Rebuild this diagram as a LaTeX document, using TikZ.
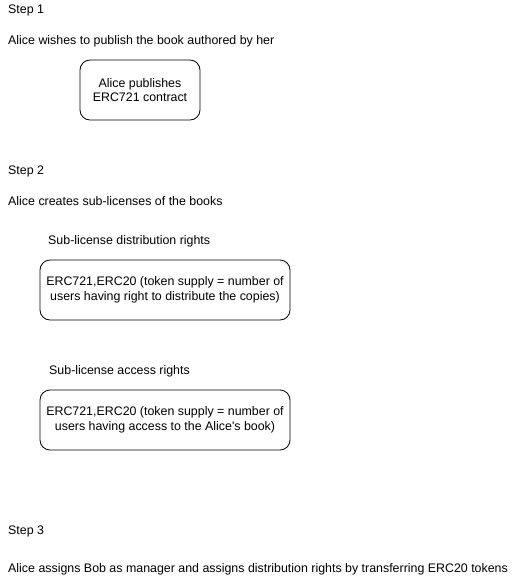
\documentclass[tikz,border=0pt]{standalone}
\usepackage{fontspec}
\setmainfont{Liberation Sans}
\usepackage{tikz}
\usetikzlibrary{shapes,positioning}

\begin{document}
\begin{tikzpicture}[x=1pt, y=-1pt, font=\fontsize{12.4}{14.5}\selectfont]
  % styles
  \tikzstyle{label}=[anchor=west, inner sep=0pt]
  \tikzstyle{contract}=[rectangle, draw=black, fill=white, line width=0.8pt, rounded corners=10pt, align=center, inner sep=0pt]

  \useasboundingbox (0,0) rectangle (521,581);

  % step 1
  \node [label] (step_one) at (8,10) {Step 1};
  \node [label] (publish_text) at (8,41) {Alice wishes to publish the book authored by her};
  \node [contract, minimum width=120pt, minimum height=60pt] (publish) at (140,90) {
      Alice publishes\\ERC721 contract
  };

  % step 2
  \node [label] (step_two) at (8,171) {Step 2};
  \node [label] (sublicense_text) at (8,201) {Alice creates sub-licenses of the books};
  \node [label] (distribution_title) at (48,241) {Sub-license distribution rights};
  \node [contract, minimum width=250pt, minimum height=60pt] (distribution) at (165,290) {
      ERC721,ERC20 (token supply = number of\\users having right to distribute the copies)
  };
  \node [label] (access_title) at (49,371) {Sub-license access rights};
  \node [contract, minimum width=250pt, minimum height=60pt] (access) at (165,420) {
      ERC721,ERC20 (token supply = number of\\users having access to the Alice\textquotesingle s book)
  };

  % step 3
  \node [label] (step_three) at (8,531) {Step 3};
  \node [label] (assign_text) at (8,569) {Alice assigns Bob as manager and assigns distribution rights by transferring ERC20 tokens};
\end{tikzpicture}
\end{document}
